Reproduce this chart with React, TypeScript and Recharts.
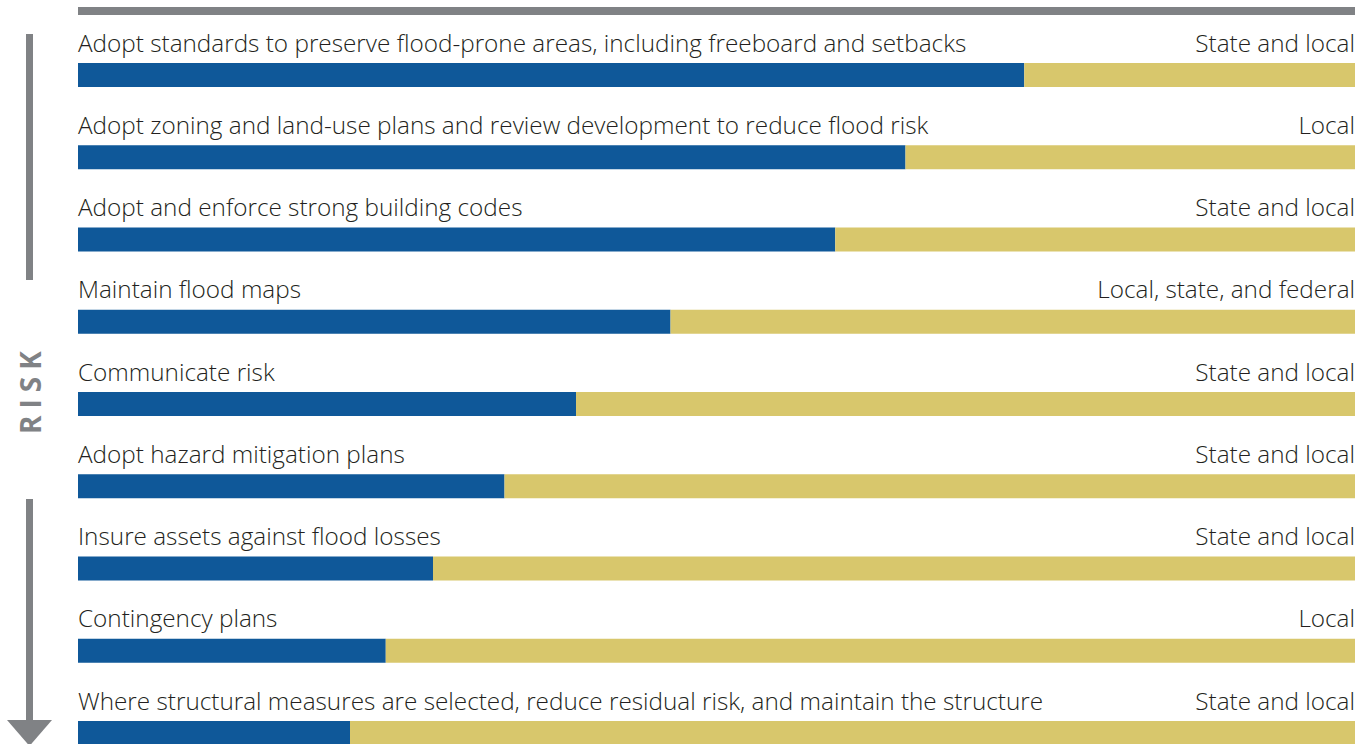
import React from "react";
import { BarChart, Bar, XAxis, YAxis, LabelList } from "recharts";

const actions = [
  "Adopt standards to preserve flood-prone areas, including freeboard and setbacks",
  "Adopt zoning and land-use plans and review development to reduce flood risk",
  "Adopt and enforce strong building codes",
  "Maintain flood maps",
  "Communicate risk",
  "Adopt hazard mitigation plans",
  "Insure assets against flood losses",
  "Contingency plans",
  "Where structural measures are selected, reduce residual risk, and maintain the structure",
];
const responsibility = [
  "State and local",
  "Local",
  "State and local",
  "Local, state, and federal",
  "State and local",
  "State and local",
  "State and local",
  "Local",
  "State and local",
];
const riskReduction = [74.1, 64.8, 59.3, 46.4, 39.0, 33.4, 27.8, 24.1, 21.3];
const TOTAL = 100;

const data = actions.map((a, i) => ({
  action: a,
  who: responsibility[i],
  value: riskReduction[i],
  rest: TOTAL - riskReduction[i],
}));

const BLUE = "#0f5899";
const YELLOW = "#d8c76c";
const GRAY = "#808285";
const TEXT = "#231f20";
const FONT = "'Open Sans', 'Noto Sans', sans-serif";
const FS = 24.3;
const GAP = 11.5;

const LeftLabel = (props: any) => {
  const { x, y, index } = props;
  return (
    <text x={x} y={y - GAP} fill={TEXT} fontFamily={FONT} fontWeight={300} fontSize={FS} textAnchor="start">
      {actions[index]}
    </text>
  );
};
const RightLabel = (props: any) => {
  const { x, y, width, index } = props;
  return (
    <text x={x + width} y={y - GAP} fill={TEXT} fontFamily={FONT} fontWeight={300} fontSize={FS} textAnchor="end">
      {responsibility[index]}
    </text>
  );
};

export default function App() {
  return (
    <div style={{ position: "fixed", left: 0, top: 0, width: 1369, height: 744, overflow: "hidden", background: "#fff" }}>
      <svg width={1369} height={744} style={{ position: "absolute", left: 0, top: 0 }}>
        <rect x={78} y={7} width={1277} height={8} fill={GRAY} />
        <rect x={26} y={34} width={7} height={246} fill={GRAY} />
        <rect x={26} y={499} width={7} height={222} fill={GRAY} />
        <polygon points="7,720 52,720 29.5,746" fill={GRAY} />
        <text
          x={0}
          y={0}
          transform="translate(41,389) rotate(-90)"
          textAnchor="middle"
          fill={GRAY}
          fontFamily={FONT}
          fontWeight={700}
          fontSize={28}
          letterSpacing={7}
        >
          RISK
        </text>
      </svg>
      <div style={{ position: "absolute", left: 0, top: 0 }}>
        <BarChart
          width={1369}
          height={790}
          data={data}
          layout="vertical"
          margin={{ top: 34, right: 14, bottom: 15.75, left: 78 }}
          barCategoryGap={0}
        >
          <XAxis type="number" domain={[0, TOTAL]} hide />
          <YAxis type="category" dataKey="action" hide width={0} />
          <Bar dataKey="value" stackId="a" fill={BLUE} barSize={24} isAnimationActive={false}>
            <LabelList dataKey="action" content={<LeftLabel />} />
          </Bar>
          <Bar dataKey="rest" stackId="a" fill={YELLOW} barSize={24} isAnimationActive={false}>
            <LabelList dataKey="who" content={<RightLabel />} />
          </Bar>
        </BarChart>
      </div>
    </div>
  );
}
